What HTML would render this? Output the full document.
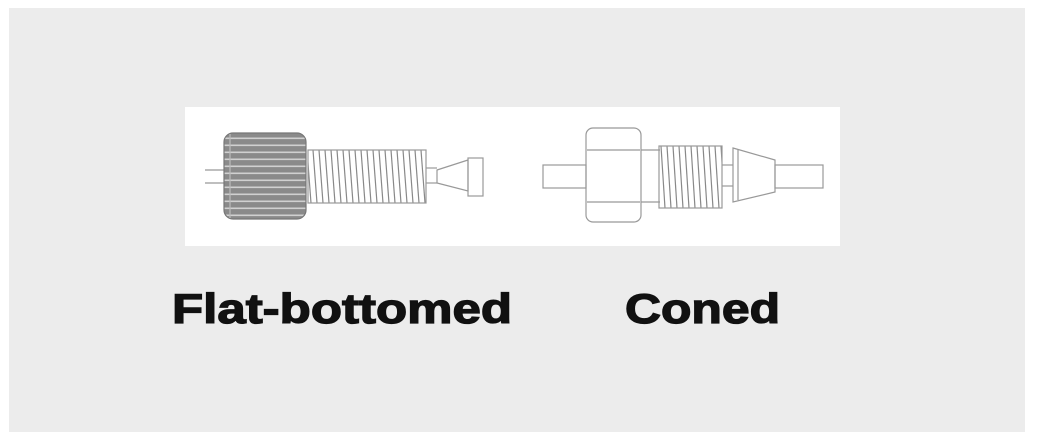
<!DOCTYPE html>
<html><head><meta charset="utf-8"><style>
html,body{margin:0;padding:0;background:#fff;}
svg{display:block;}
</style></head><body>
<svg width="1037" height="442" viewBox="0 0 1037 442" xmlns="http://www.w3.org/2000/svg">
<defs>
<pattern id="thr1" x="0" y="150" width="6" height="53" patternUnits="userSpaceOnUse">
<path d="M1,0 L5,53" stroke="#888" stroke-width="1.2" fill="none"/>
</pattern>
<pattern id="thr2" x="0" y="146" width="6" height="62" patternUnits="userSpaceOnUse">
<path d="M1,0 L5,62" stroke="#888" stroke-width="1.2" fill="none"/>
</pattern>
<pattern id="knurl" x="0" y="133" width="10" height="7" patternUnits="userSpaceOnUse">
<rect width="10" height="7" fill="#8a8a8a"/>
<rect y="4.5" width="10" height="1.6" fill="#d0d0d0"/>
</pattern>
</defs>
<rect x="0" y="0" width="1037" height="442" fill="#fff"/>
<rect x="9" y="8" width="1016" height="424" fill="#ececec"/>
<rect x="185" y="107" width="655" height="139" fill="#fff"/>
<g fill="none" stroke="#999" stroke-width="1.2">
<line x1="205" y1="170" x2="226" y2="170"/>
<line x1="205" y1="183" x2="226" y2="183"/>
<rect x="224" y="133" width="82" height="86" rx="9" fill="url(#knurl)" stroke="#777"/>
<line x1="230" y1="134" x2="230" y2="218" stroke="#bbb"/>
<rect x="308" y="150" width="118" height="53" fill="url(#thr1)" stroke="#999"/>
<line x1="426" y1="168" x2="437" y2="168"/>
<line x1="426" y1="183" x2="437" y2="183"/>
<polygon points="437,170 468,160 468,191 437,183"/>
<rect x="468" y="158" width="15" height="38"/>
<rect x="543" y="165" width="43" height="23"/>
<rect x="586" y="128" width="55" height="94" rx="7"/>
<line x1="587" y1="150" x2="640" y2="150"/>
<line x1="587" y1="202" x2="640" y2="202"/>
<line x1="641" y1="150" x2="660" y2="150"/>
<line x1="641" y1="202" x2="660" y2="202"/>
<rect x="659" y="146" width="63" height="62" fill="url(#thr2)" stroke="#999"/>
<line x1="722" y1="165" x2="733" y2="165"/>
<line x1="722" y1="186" x2="733" y2="186"/>
<polygon points="733,148 775,160 775,192 733,202"/>
<line x1="738" y1="150" x2="738" y2="200"/>
<rect x="775" y="165" width="48" height="23"/>
</g>
<g font-family="Liberation Sans, Arial, sans-serif" font-weight="bold" font-size="42" fill="#111" stroke="#111" stroke-width="1.3">
<text x="172" y="323" textLength="340" lengthAdjust="spacingAndGlyphs">Flat-bottomed</text>
<text x="625" y="323" textLength="155" lengthAdjust="spacingAndGlyphs">Coned</text>
</g>
</svg>
</body></html>
